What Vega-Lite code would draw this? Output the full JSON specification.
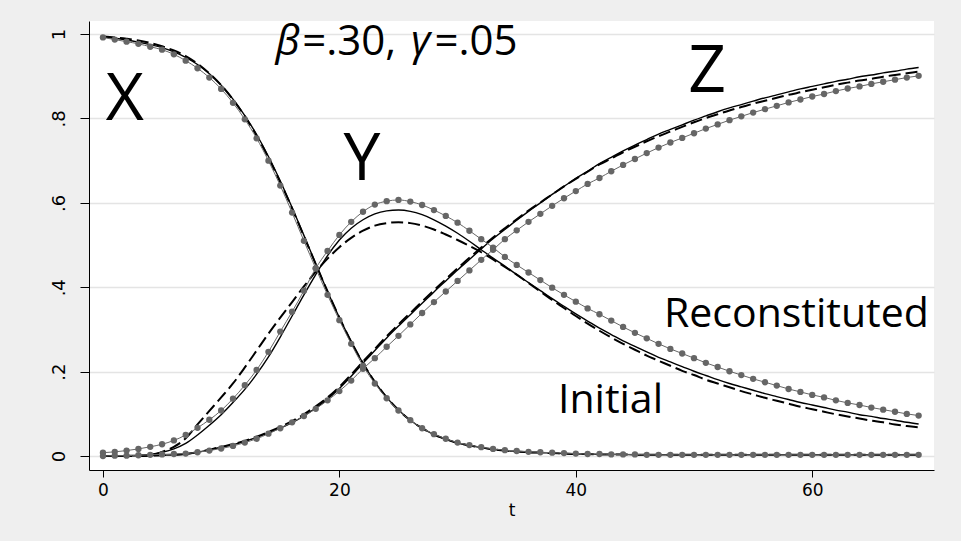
{
  "$schema": "https://vega.github.io/schema/vega-lite/v6.json",
  "width": 845,
  "height": 449,
  "autosize": {"type": "none"},
  "padding": {"left": 89, "top": 21, "right": 27, "bottom": 71},
  "background": "#efefef",
  "config": {
    "view": {"fill": "white", "stroke": null},
    "axis": {"domainColor": "black", "tickColor": "black", "labelColor": "black", "titleColor": "black", "labelFont": "DejaVu Sans", "titleFont": "DejaVu Sans", "labelFontSize": 17, "titleFontSize": 17, "titleFontWeight": "normal", "domainWidth": 1, "tickWidth": 1}
  },
  "data": {"values": [
    {"t":0,"xr":0.992,"yr":0.008,"zr":0.000,"xs":0.993,"ys":0.000,"zs":0.000,"xd":0.994,"yd":0.000,"zd":0.000},
    {"t":1,"xr":0.987,"yr":0.010,"zr":0.001,"xs":0.990,"ys":0.000,"zs":0.000,"xd":0.992,"yd":0.000,"zd":0.000},
    {"t":2,"xr":0.982,"yr":0.013,"zr":0.001,"xs":0.986,"ys":0.001,"zs":0.000,"xd":0.989,"yd":0.000,"zd":0.000},
    {"t":3,"xr":0.977,"yr":0.017,"zr":0.002,"xs":0.981,"ys":0.002,"zs":0.001,"xd":0.985,"yd":0.000,"zd":0.001},
    {"t":4,"xr":0.970,"yr":0.022,"zr":0.003,"xs":0.975,"ys":0.004,"zs":0.001,"xd":0.979,"yd":0.002,"zd":0.001},
    {"t":5,"xr":0.963,"yr":0.028,"zr":0.004,"xs":0.968,"ys":0.009,"zs":0.002,"xd":0.971,"yd":0.010,"zd":0.002},
    {"t":6,"xr":0.952,"yr":0.037,"zr":0.005,"xs":0.958,"ys":0.017,"zs":0.003,"xd":0.961,"yd":0.022,"zd":0.003},
    {"t":7,"xr":0.937,"yr":0.050,"zr":0.006,"xs":0.945,"ys":0.030,"zs":0.005,"xd":0.948,"yd":0.042,"zd":0.005},
    {"t":8,"xr":0.919,"yr":0.067,"zr":0.009,"xs":0.928,"ys":0.050,"zs":0.009,"xd":0.930,"yd":0.075,"zd":0.009},
    {"t":9,"xr":0.897,"yr":0.086,"zr":0.013,"xs":0.906,"ys":0.073,"zs":0.015,"xd":0.907,"yd":0.107,"zd":0.015},
    {"t":10,"xr":0.870,"yr":0.108,"zr":0.018,"xs":0.879,"ys":0.098,"zs":0.021,"xd":0.879,"yd":0.139,"zd":0.022},
    {"t":11,"xr":0.837,"yr":0.136,"zr":0.024,"xs":0.846,"ys":0.127,"zs":0.027,"xd":0.845,"yd":0.172,"zd":0.028},
    {"t":12,"xr":0.798,"yr":0.168,"zr":0.032,"xs":0.807,"ys":0.158,"zs":0.035,"xd":0.805,"yd":0.210,"zd":0.036},
    {"t":13,"xr":0.753,"yr":0.204,"zr":0.041,"xs":0.762,"ys":0.194,"zs":0.044,"xd":0.759,"yd":0.250,"zd":0.046},
    {"t":14,"xr":0.700,"yr":0.247,"zr":0.053,"xs":0.710,"ys":0.235,"zs":0.055,"xd":0.707,"yd":0.290,"zd":0.057},
    {"t":15,"xr":0.641,"yr":0.295,"zr":0.066,"xs":0.652,"ys":0.282,"zs":0.066,"xd":0.649,"yd":0.328,"zd":0.069},
    {"t":16,"xr":0.577,"yr":0.342,"zr":0.080,"xs":0.589,"ys":0.332,"zs":0.079,"xd":0.587,"yd":0.365,"zd":0.083},
    {"t":17,"xr":0.510,"yr":0.392,"zr":0.095,"xs":0.523,"ys":0.382,"zs":0.095,"xd":0.521,"yd":0.402,"zd":0.099},
    {"t":18,"xr":0.445,"yr":0.445,"zr":0.112,"xs":0.456,"ys":0.430,"zs":0.114,"xd":0.455,"yd":0.437,"zd":0.118},
    {"t":19,"xr":0.382,"yr":0.486,"zr":0.132,"xs":0.390,"ys":0.475,"zs":0.135,"xd":0.390,"yd":0.468,"zd":0.139},
    {"t":20,"xr":0.322,"yr":0.524,"zr":0.154,"xs":0.328,"ys":0.512,"zs":0.160,"xd":0.328,"yd":0.495,"zd":0.164},
    {"t":21,"xr":0.266,"yr":0.555,"zr":0.179,"xs":0.271,"ys":0.540,"zs":0.189,"xd":0.271,"yd":0.517,"zd":0.193},
    {"t":22,"xr":0.214,"yr":0.579,"zr":0.207,"xs":0.220,"ys":0.560,"zs":0.220,"xd":0.220,"yd":0.534,"zd":0.224},
    {"t":23,"xr":0.172,"yr":0.596,"zr":0.232,"xs":0.176,"ys":0.574,"zs":0.250,"xd":0.176,"yd":0.546,"zd":0.254},
    {"t":24,"xr":0.137,"yr":0.604,"zr":0.259,"xs":0.139,"ys":0.581,"zs":0.280,"xd":0.139,"yd":0.552,"zd":0.284},
    {"t":25,"xr":0.108,"yr":0.607,"zr":0.285,"xs":0.109,"ys":0.583,"zs":0.308,"xd":0.109,"yd":0.554,"zd":0.312},
    {"t":26,"xr":0.085,"yr":0.603,"zr":0.312,"xs":0.085,"ys":0.580,"zs":0.335,"xd":0.085,"yd":0.552,"zd":0.339},
    {"t":27,"xr":0.066,"yr":0.595,"zr":0.339,"xs":0.066,"ys":0.572,"zs":0.362,"xd":0.066,"yd":0.546,"zd":0.366},
    {"t":28,"xr":0.052,"yr":0.583,"zr":0.365,"xs":0.051,"ys":0.560,"zs":0.389,"xd":0.051,"yd":0.537,"zd":0.393},
    {"t":29,"xr":0.041,"yr":0.569,"zr":0.390,"xs":0.040,"ys":0.545,"zs":0.415,"xd":0.040,"yd":0.525,"zd":0.419},
    {"t":30,"xr":0.032,"yr":0.553,"zr":0.415,"xs":0.031,"ys":0.528,"zs":0.441,"xd":0.031,"yd":0.512,"zd":0.445},
    {"t":31,"xr":0.026,"yr":0.534,"zr":0.440,"xs":0.025,"ys":0.509,"zs":0.466,"xd":0.025,"yd":0.498,"zd":0.470},
    {"t":32,"xr":0.021,"yr":0.514,"zr":0.465,"xs":0.020,"ys":0.489,"zs":0.491,"xd":0.020,"yd":0.483,"zd":0.494},
    {"t":33,"xr":0.017,"yr":0.494,"zr":0.489,"xs":0.016,"ys":0.469,"zs":0.515,"xd":0.016,"yd":0.466,"zd":0.518},
    {"t":34,"xr":0.014,"yr":0.472,"zr":0.514,"xs":0.013,"ys":0.450,"zs":0.537,"xd":0.013,"yd":0.448,"zd":0.540},
    {"t":35,"xr":0.012,"yr":0.453,"zr":0.535,"xs":0.011,"ys":0.430,"zs":0.559,"xd":0.011,"yd":0.430,"zd":0.561},
    {"t":36,"xr":0.010,"yr":0.435,"zr":0.555,"xs":0.009,"ys":0.411,"zs":0.580,"xd":0.009,"yd":0.410,"zd":0.582},
    {"t":37,"xr":0.009,"yr":0.417,"zr":0.574,"xs":0.008,"ys":0.392,"zs":0.600,"xd":0.008,"yd":0.390,"zd":0.601},
    {"t":38,"xr":0.008,"yr":0.399,"zr":0.593,"xs":0.007,"ys":0.373,"zs":0.620,"xd":0.007,"yd":0.370,"zd":0.620},
    {"t":39,"xr":0.007,"yr":0.382,"zr":0.611,"xs":0.006,"ys":0.355,"zs":0.639,"xd":0.006,"yd":0.351,"zd":0.639},
    {"t":40,"xr":0.006,"yr":0.366,"zr":0.628,"xs":0.005,"ys":0.337,"zs":0.658,"xd":0.005,"yd":0.332,"zd":0.657},
    {"t":41,"xr":0.005,"yr":0.350,"zr":0.645,"xs":0.005,"ys":0.320,"zs":0.675,"xd":0.005,"yd":0.314,"zd":0.674},
    {"t":42,"xr":0.005,"yr":0.336,"zr":0.659,"xs":0.004,"ys":0.303,"zs":0.693,"xd":0.004,"yd":0.297,"zd":0.691},
    {"t":43,"xr":0.004,"yr":0.321,"zr":0.675,"xs":0.004,"ys":0.288,"zs":0.708,"xd":0.004,"yd":0.281,"zd":0.705},
    {"t":44,"xr":0.004,"yr":0.306,"zr":0.690,"xs":0.004,"ys":0.273,"zs":0.723,"xd":0.004,"yd":0.266,"zd":0.720},
    {"t":45,"xr":0.004,"yr":0.292,"zr":0.704,"xs":0.003,"ys":0.260,"zs":0.737,"xd":0.003,"yd":0.252,"zd":0.733},
    {"t":46,"xr":0.003,"yr":0.279,"zr":0.718,"xs":0.003,"ys":0.247,"zs":0.750,"xd":0.003,"yd":0.238,"zd":0.746},
    {"t":47,"xr":0.003,"yr":0.266,"zr":0.731,"xs":0.003,"ys":0.234,"zs":0.763,"xd":0.003,"yd":0.226,"zd":0.758},
    {"t":48,"xr":0.003,"yr":0.254,"zr":0.743,"xs":0.003,"ys":0.223,"zs":0.774,"xd":0.003,"yd":0.214,"zd":0.769},
    {"t":49,"xr":0.003,"yr":0.243,"zr":0.754,"xs":0.003,"ys":0.212,"zs":0.785,"xd":0.003,"yd":0.202,"zd":0.780},
    {"t":50,"xr":0.003,"yr":0.232,"zr":0.765,"xs":0.003,"ys":0.201,"zs":0.796,"xd":0.003,"yd":0.192,"zd":0.791},
    {"t":51,"xr":0.003,"yr":0.221,"zr":0.776,"xs":0.003,"ys":0.191,"zs":0.806,"xd":0.003,"yd":0.181,"zd":0.801},
    {"t":52,"xr":0.003,"yr":0.211,"zr":0.786,"xs":0.003,"ys":0.181,"zs":0.816,"xd":0.003,"yd":0.172,"zd":0.810},
    {"t":53,"xr":0.003,"yr":0.201,"zr":0.796,"xs":0.003,"ys":0.172,"zs":0.825,"xd":0.003,"yd":0.163,"zd":0.819},
    {"t":54,"xr":0.003,"yr":0.192,"zr":0.805,"xs":0.003,"ys":0.164,"zs":0.833,"xd":0.003,"yd":0.154,"zd":0.827},
    {"t":55,"xr":0.003,"yr":0.183,"zr":0.814,"xs":0.003,"ys":0.156,"zs":0.841,"xd":0.003,"yd":0.146,"zd":0.835},
    {"t":56,"xr":0.003,"yr":0.175,"zr":0.822,"xs":0.003,"ys":0.148,"zs":0.849,"xd":0.003,"yd":0.138,"zd":0.842},
    {"t":57,"xr":0.003,"yr":0.167,"zr":0.830,"xs":0.003,"ys":0.141,"zs":0.856,"xd":0.003,"yd":0.131,"zd":0.849},
    {"t":58,"xr":0.003,"yr":0.159,"zr":0.838,"xs":0.003,"ys":0.134,"zs":0.863,"xd":0.003,"yd":0.124,"zd":0.856},
    {"t":59,"xr":0.003,"yr":0.152,"zr":0.845,"xs":0.003,"ys":0.127,"zs":0.870,"xd":0.003,"yd":0.117,"zd":0.862},
    {"t":60,"xr":0.003,"yr":0.145,"zr":0.852,"xs":0.003,"ys":0.121,"zs":0.876,"xd":0.003,"yd":0.111,"zd":0.868},
    {"t":61,"xr":0.003,"yr":0.139,"zr":0.858,"xs":0.003,"ys":0.115,"zs":0.882,"xd":0.003,"yd":0.105,"zd":0.874},
    {"t":62,"xr":0.003,"yr":0.132,"zr":0.865,"xs":0.003,"ys":0.109,"zs":0.888,"xd":0.003,"yd":0.099,"zd":0.880},
    {"t":63,"xr":0.003,"yr":0.126,"zr":0.871,"xs":0.003,"ys":0.104,"zs":0.893,"xd":0.003,"yd":0.094,"zd":0.885},
    {"t":64,"xr":0.003,"yr":0.121,"zr":0.876,"xs":0.003,"ys":0.098,"zs":0.899,"xd":0.003,"yd":0.089,"zd":0.890},
    {"t":65,"xr":0.003,"yr":0.115,"zr":0.882,"xs":0.003,"ys":0.094,"zs":0.903,"xd":0.003,"yd":0.084,"zd":0.894},
    {"t":66,"xr":0.003,"yr":0.110,"zr":0.887,"xs":0.003,"ys":0.089,"zs":0.908,"xd":0.003,"yd":0.080,"zd":0.899},
    {"t":67,"xr":0.003,"yr":0.105,"zr":0.892,"xs":0.003,"ys":0.085,"zs":0.912,"xd":0.003,"yd":0.075,"zd":0.903},
    {"t":68,"xr":0.003,"yr":0.100,"zr":0.897,"xs":0.003,"ys":0.080,"zs":0.917,"xd":0.003,"yd":0.071,"zd":0.907},
    {"t":69,"xr":0.003,"yr":0.096,"zr":0.901,"xs":0.003,"ys":0.076,"zs":0.921,"xd":0.003,"yd":0.068,"zd":0.911}
  ]},
  "encoding": {
    "x": {"field": "t", "type": "quantitative",
      "scale": {"domain": [-1.18, 70.3], "nice": false, "zero": false},
      "axis": {"values": [0, 20, 40, 60], "title": "t", "grid": false, "tickSize": 7, "labelPadding": 5, "titlePadding": 4, "labelFlush": false}},
    "y": {"field": "v", "type": "quantitative",
      "scale": {"domain": [-0.033, 1.031], "nice": false, "zero": false},
      "axis": {"values": [0, 0.2, 0.4, 0.6, 0.8, 1], "title": null, "grid": true, "gridColor": "#e4e4e4", "gridWidth": 1.5, "tickSize": 9, "labelPadding": 12, "labelFontSize": 18, "labelAngle": -90, "labelAlign": "center", "labelBaseline": "bottom", "labelFlush": false,
        "labelExpr": "datum.value == 0 ? '0' : datum.value == 1 ? '1' : '.' + format(datum.value * 10, 'd')"}}
  },
  "layer": [
    {
      "transform": [{"fold": ["xs", "ys", "zs"], "as": ["series", "v"]}],
      "mark": {"type": "line", "color": "black", "strokeWidth": 1.4, "interpolate": "monotone"},
      "encoding": {"detail": {"field": "series"}}
    },
    {
      "transform": [{"fold": ["xd", "yd", "zd"], "as": ["series", "v"]}],
      "mark": {"type": "line", "color": "black", "strokeWidth": 2, "strokeDash": [12, 5], "interpolate": "monotone"},
      "encoding": {"detail": {"field": "series"}}
    },
    {
      "transform": [{"fold": ["xr", "yr", "zr"], "as": ["series", "v"]}],
      "mark": {"type": "line", "color": "#666666", "strokeWidth": 1, "interpolate": "monotone"},
      "encoding": {"detail": {"field": "series"}}
    },
    {
      "transform": [{"fold": ["xr", "yr", "zr"], "as": ["series", "v"]}],
      "mark": {"type": "point", "filled": true, "color": "#666666", "opacity": 1, "size": 40},
      "encoding": {"detail": {"field": "series"}}
    },
    {
      "data": {"values": [
        {"label": "X", "t": 1.86, "v": 0.796},
        {"label": "Y", "t": 21.9, "v": 0.654},
        {"label": "Z", "t": 51.1, "v": 0.863}
      ]},
      "mark": {"type": "text", "font": "Open Sans", "fontSize": 66, "align": "center", "baseline": "alphabetic", "color": "black"},
      "encoding": {"text": {"field": "label"}}
    },
    {
      "data": {"values": [
        {"label": "Reconstituted", "t": 47.46, "v": 0.305},
        {"label": "Initial", "t": 38.49, "v": 0.101}
      ]},
      "mark": {"type": "text", "font": "Open Sans", "fontSize": 41, "align": "left", "baseline": "alphabetic", "color": "black"},
      "encoding": {"text": {"field": "label"}}
    },
    {
      "data": {"values": [
        {"label": "=.30,", "t": 16.85, "v": 0.95},
        {"label": "=.05", "t": 28.05, "v": 0.95}
      ]},
      "mark": {"type": "text", "font": "Open Sans", "fontSize": 42, "align": "left", "baseline": "alphabetic", "color": "black"},
      "encoding": {"text": {"field": "label"}}
    },
    {
      "data": {"values": [
        {"label": "β", "t": 14.6, "v": 0.95},
        {"label": "γ", "t": 26.05, "v": 0.95}
      ]},
      "mark": {"type": "text", "font": "Open Sans", "fontSize": 42, "fontStyle": "italic", "align": "left", "baseline": "alphabetic", "color": "black"},
      "encoding": {"text": {"field": "label"}}
    }
  ]
}
